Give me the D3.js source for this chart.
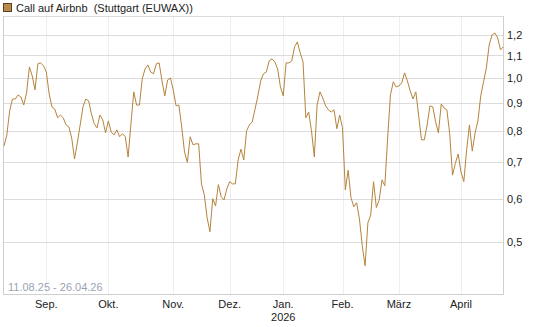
<!DOCTYPE html>
<html>
<head>
<meta charset="utf-8">
<script src="https://cdn.jsdelivr.net/npm/d3@7"></script>
<style>
  html, body { margin: 0; padding: 0; background: #fff; }
  svg { display: block; font-family: "Liberation Sans", Arial, sans-serif; }
  text { white-space: pre; }
</style>
</head>
<body>
<svg id="chart" width="545" height="327"></svg>
<script>
// ---- Data ----
const seriesName = "Call auf Airbnb  (Stuttgart (EUWAX))";
const rangeLabel = "11.08.25 - 26.04.26";
const startDate = "2025-08-11";
const endDate = "2026-04-24";
const holidays = ["2025-12-24", "2025-12-25", "2025-12-26", "2025-12-31", "2026-01-01", "2026-04-03", "2026-04-06"];
const values = [
  0.750, 0.786, 0.870, 0.915, 0.915, 0.931, 0.923, 0.892, 0.939, 1.048,
  1.009, 0.951, 1.062, 1.066, 1.053, 1.026, 0.935, 0.885, 0.877, 0.845,
  0.855, 0.845, 0.820, 0.813, 0.776, 0.710, 0.760, 0.820, 0.885, 0.915,
  0.908, 0.859, 0.824, 0.810, 0.855, 0.838, 0.793, 0.834, 0.796, 0.786,
  0.803, 0.780, 0.790, 0.780, 0.716, 0.824, 0.943, 0.892, 0.892, 0.996,
  1.039, 1.057, 1.026, 1.018, 1.062, 1.066, 0.988, 0.927, 0.992, 1.000,
  0.951, 0.889, 0.892, 0.813, 0.731, 0.700, 0.780, 0.754, 0.757, 0.757,
  0.639, 0.610, 0.554, 0.522, 0.600, 0.582, 0.637, 0.605, 0.597, 0.626,
  0.645, 0.639, 0.639, 0.707, 0.740, 0.707, 0.800, 0.820, 0.831, 0.877,
  0.927, 0.988, 1.018, 1.026, 1.075, 1.084, 1.071, 1.039, 0.963, 0.927,
  1.066, 1.066, 1.075, 1.141, 1.165, 1.112, 1.071, 0.845, 0.866, 0.800,
  0.716, 0.892, 0.943, 0.919, 0.889, 0.874, 0.866, 0.874, 0.807, 0.855,
  0.810, 0.623, 0.677, 0.603, 0.580, 0.590, 0.551, 0.492, 0.452, 0.542,
  0.560, 0.645, 0.578, 0.597, 0.650, 0.634, 0.776, 0.931, 0.984, 0.963,
  0.967, 0.980, 1.022, 0.988, 0.947, 0.915, 0.943, 0.852, 0.770, 0.770,
  0.820, 0.889, 0.885, 0.831, 0.793, 0.896, 0.881, 0.874, 0.790, 0.663,
  0.697, 0.725, 0.672, 0.645, 0.738, 0.820, 0.734, 0.793, 0.834, 0.927,
  0.984, 1.044, 1.150, 1.200, 1.210, 1.185, 1.127, 1.141
];
const yTicks = [0.5, 0.6, 0.7, 0.8, 0.9, 1.0, 1.1, 1.2];
const monthLabels = ["Sep.", "Okt.", "Nov.", "Dez.", "Jan.", "Feb.", "März", "April"];
const yearLabel = "2026";

// ---- Trading days ----
const parse = d3.utcParse("%Y-%m-%d");
const fmt = d3.utcFormat("%Y-%m-%d");
const hol = new Set(holidays);
const days = d3.utcDays(parse(startDate), d3.utcDay.offset(parse(endDate), 1))
  .filter(d => d.getUTCDay() !== 0 && d.getUTCDay() !== 6 && !hol.has(fmt(d)));
const data = values.map((v, i) => ({ date: days[i], i, v }));

// ---- Layout ----
const plot = { left: 3, right: 503.5, top: 16, bottom: 294 };
const svg = d3.select("#chart");

const x = d3.scaleLinear().domain([0, data.length - 1]).range([4, 503.3]);
const y = d3.scaleLog().domain([0.401, 1.30]).range([plot.bottom, plot.top]);

// month starts = first trading day in each month
const monthStarts = [];
for (let k = 1; k < data.length; k++) {
  if (data[k].date.getUTCMonth() !== data[k - 1].date.getUTCMonth()) monthStarts.push(k);
}

// vertical grid
svg.append("g").selectAll("line").data(monthStarts).join("line")
  .attr("x1", d => Math.round(x(d)) + 0.5).attr("x2", d => Math.round(x(d)) + 0.5)
  .attr("y1", plot.top).attr("y2", plot.bottom)
  .attr("stroke", "#eeeeee").attr("stroke-width", 1);

// horizontal grid
svg.append("g").selectAll("line").data(yTicks).join("line")
  .attr("x1", plot.left).attr("x2", plot.right)
  .attr("y1", d => Math.round(y(d)) + 0.5).attr("y2", d => Math.round(y(d)) + 0.5)
  .attr("stroke", "#dcdcdc").attr("stroke-width", 1);

// frame
svg.append("line").attr("x1", plot.left).attr("x2", plot.right)
  .attr("y1", plot.top + 0.5).attr("y2", plot.top + 0.5).attr("stroke", "#dcdcdc");
svg.append("line").attr("x1", plot.left + 0.5).attr("x2", plot.left + 0.5)
  .attr("y1", plot.top).attr("y2", plot.bottom + 1).attr("stroke", "#cfcfcf");
svg.append("line").attr("x1", plot.right).attr("x2", plot.right)
  .attr("y1", plot.top).attr("y2", plot.bottom + 1).attr("stroke", "#cfcfcf");
svg.append("line").attr("x1", plot.left).attr("x2", plot.right + 0.5)
  .attr("y1", plot.bottom + 0.5).attr("y2", plot.bottom + 0.5).attr("stroke", "#cfcfcf");

// line
const line = d3.line().x(d => x(d.i)).y(d => y(d.v));
svg.append("path").datum(data)
  .attr("d", line).attr("fill", "none")
  .attr("stroke", "#b5843c").attr("stroke-width", 1)
  .attr("stroke-linejoin", "round");

// y axis (right)
const yAxis = d3.axisRight(y).tickValues(yTicks).tickSize(0).tickPadding(0)
  .tickFormat(d => d3.format(".1f")(d).replace(".", ","));
const gy = svg.append("g").attr("transform", `translate(${plot.right + 3.5},0)`).call(yAxis);
gy.select(".domain").remove();
gy.selectAll("text").attr("font-size", 11).attr("fill", "#222")
  .attr("font-family", "Liberation Sans, Arial, sans-serif");

// x axis labels
const gx = svg.append("g");
gx.selectAll("text.m").data(monthStarts).join("text").attr("class", "m")
  .attr("x", d => x(d)).attr("y", 308)
  .attr("text-anchor", "middle").attr("font-size", 11).attr("fill", "#222")
  .text((d, k) => monthLabels[k]);
const janIdx = monthStarts[monthLabels.indexOf("Jan.")];
gx.append("text").attr("x", x(janIdx)).attr("y", 321)
  .attr("text-anchor", "middle").attr("font-size", 11).attr("fill", "#222")
  .text(yearLabel);

// range label
svg.append("text").attr("x", 8).attr("y", 291)
  .attr("font-size", 11).attr("fill", "#9aa3b5").text(rangeLabel);

// legend
svg.append("rect").attr("x", 3.5).attr("y", 3.5).attr("width", 8).attr("height", 8)
  .attr("fill", "#b8894a").attr("stroke", "#5a4020").attr("stroke-width", 1);
svg.append("text").attr("x", 16).attr("y", 12)
  .attr("font-size", 11).attr("fill", "#222")
  .attr("xml:space", "preserve").text(seriesName);
</script>
</body>
</html>
